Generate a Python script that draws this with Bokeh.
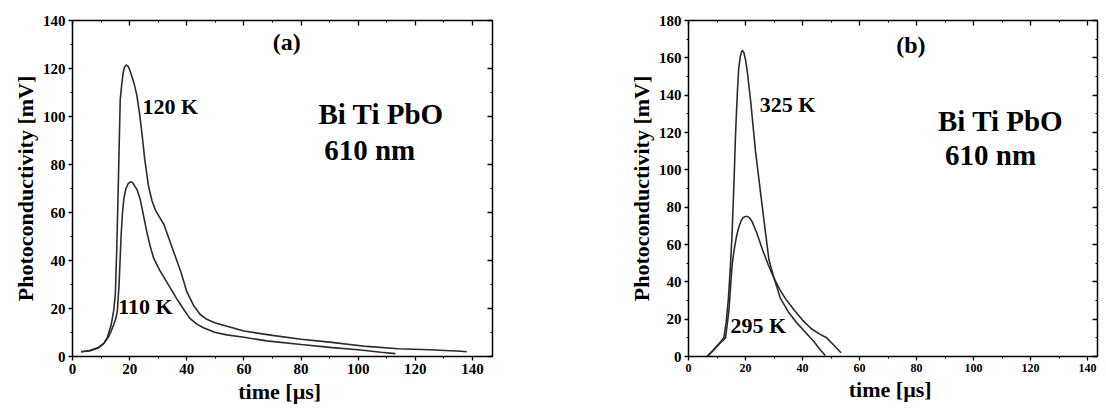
from bokeh.plotting import figure
from bokeh.models import Range1d, LinearAxis, Label, SingleIntervalTicker, CustomJSTickFormatter
from bokeh.layouts import row
from bokeh.embed import file_html
from bokeh.resources import INLINE

# ---- data (panel a) ----
a_120_t = [3, 6, 9, 11, 12.2, 13.5, 14.4, 15, 15.5, 16, 16.7, 17.2, 17.7, 18.2, 18.8, 19.4, 20, 20.7, 21.5, 22.5, 23.5, 24.3, 25.3, 26.6, 27.8, 29, 30.5, 32, 33.5, 35.3, 38, 40, 42.5, 44.7, 47, 50, 55, 60, 70, 80, 90, 103, 114, 125, 136, 138]
a_120_v = [2, 2.3, 3.5, 5.5, 8, 13, 19, 26, 45, 70, 107, 113, 118, 120.5, 121.5, 121, 119.5, 117, 114, 109, 101, 93, 82, 71, 65, 61, 58, 55, 50, 44, 35, 27, 21, 17.5, 15.5, 14, 12.3, 10.6, 8.8, 7.2, 6, 4.2, 3.2, 2.8, 2.2, 2]
a_110_t = [3, 6, 9, 11, 12.5, 13.5, 14.5, 15.2, 15.7, 16.3, 17, 17.5, 18, 18.7, 19.5, 20.3, 21, 21.8, 22.6, 23.7, 24.8, 26, 27.2, 28.4, 30.5, 33, 35, 36.5, 39, 41, 43.5, 45.8, 50, 54, 60, 68, 80, 91, 100, 108, 113]
a_110_v = [2, 2.5, 3.8, 5.5, 8, 10.5, 13.5, 16, 19, 30, 50, 60, 66, 70, 72, 72.8, 72.5, 71, 69.5, 65.5, 59, 52, 46, 41, 36, 31, 27, 24, 19.5, 16, 13.5, 12, 10, 9, 8, 6.5, 5, 3.7, 2.8, 1.8, 1.2]

# ---- data (panel b) ----
b_325_t = [6.5, 8.5, 10.6, 12.4, 13.2, 14, 14.7, 15.3, 16, 16.5, 17.1, 17.6, 18.2, 18.8, 19.4, 20, 20.6, 21.2, 21.8, 23.5, 25.9, 28.2, 30, 32.3, 35, 38, 41, 44, 46, 48]
b_325_v = [0, 3, 6.5, 10, 18, 31, 48, 66, 95, 119, 140, 154, 161, 164, 163, 159, 153, 145, 137, 110, 80, 52, 42, 31, 24, 18, 13, 8, 4, 0.5]
b_295_t = [6.5, 8.5, 10.6, 13, 14.2, 15.3, 16, 16.8, 17.6, 18.4, 19.2, 20, 20.8, 21.6, 22.4, 23.2, 24, 25.9, 28, 30, 32, 34, 37, 40, 43, 46, 48.5, 51, 53.5]
b_295_v = [0, 3, 6.5, 10, 25, 49, 57, 64, 69, 72.5, 74.5, 75, 75, 74, 72, 69, 66, 57.5, 49, 42, 36, 31, 25, 19.5, 15, 12, 10, 6, 2]

SERIF = "Liberation Serif"
LINE = "#2b2b2b"
BLANK = CustomJSTickFormatter(code="return ''")


def style_axis(ax, label_size, tick_in=0, tick_out=4):
    ax.axis_line_color = "black"
    ax.axis_line_width = 1.5
    ax.major_tick_line_color = "black"
    ax.minor_tick_line_color = "black"
    ax.major_tick_line_width = 1.3
    ax.major_tick_in = tick_in
    ax.major_tick_out = tick_out
    ax.minor_tick_in = 0 if tick_out else 2
    ax.minor_tick_out = 2 if tick_out else 0
    ax.major_label_text_font = SERIF
    ax.major_label_text_font_style = "bold"
    ax.major_label_text_color = "black"
    ax.major_label_text_font_size = label_size
    ax.major_label_standoff = 3
    ax.axis_label_text_font = SERIF
    ax.axis_label_text_font_style = "bold"
    ax.axis_label_text_font_size = "22px"
    ax.axis_label_text_color = "black"
    ax.axis_label_standoff = 2


def make_panel(width, x_end, y_end, bl, br, bt, bb, xlab_size):
    p = figure(width=width, height=406, output_backend="svg", toolbar_location=None,
               x_range=Range1d(0, x_end), y_range=Range1d(0, y_end),
               min_border_left=bl, min_border_right=br, min_border_top=bt, min_border_bottom=bb,
               x_axis_label="time  [µs]", y_axis_label="Photoconductivity [mV]")
    p.grid.visible = False
    p.outline_line_color = None
    p.xaxis.ticker = SingleIntervalTicker(interval=20, num_minor_ticks=2)
    p.yaxis.ticker = SingleIntervalTicker(interval=20, num_minor_ticks=2)
    style_axis(p.xaxis[0], xlab_size)
    style_axis(p.yaxis[0], "15px")
    top = LinearAxis(ticker=SingleIntervalTicker(interval=20, num_minor_ticks=2), formatter=BLANK)
    right = LinearAxis(ticker=SingleIntervalTicker(interval=20, num_minor_ticks=2), formatter=BLANK)
    style_axis(top, "10px", tick_in=5, tick_out=0)
    style_axis(right, "10px", tick_in=5, tick_out=0)
    top.major_label_standoff = 0
    right.major_label_standoff = 0
    p.add_layout(top, "above")
    p.add_layout(right, "right")
    return p


def add_label(p, x, y, text, size, align="left"):
    p.add_layout(Label(x=x, y=y, text=text, text_font=SERIF, text_font_style="bold",
                       text_font_size=size, text_color="black", text_align=align,
                       text_baseline="middle"))


# ---- panel (a) ----
pa = make_panel(568, 147, 140, 72, 76, 20, 47, "15px")
pa.line(a_120_t, a_120_v, line_color=LINE, line_width=1.6)
pa.line(a_110_t, a_110_v, line_color=LINE, line_width=1.6)
add_label(pa, 75, 131, "(a)", "24px", "center")
add_label(pa, 24.5, 104, "120 K", "22px")
add_label(pa, 16, 21, "110 K", "22px")
add_label(pa, 108, 101, "Bi Ti PbO", "29px", "center")
add_label(pa, 104, 86, "610 nm", "29px", "center")

# ---- panel (b) ----
pb = make_panel(536, 143.5, 180, 120, 7, 18, 47, "12px")
pb.line(b_325_t, b_325_v, line_color=LINE, line_width=1.6)
pb.line(b_295_t, b_295_v, line_color=LINE, line_width=1.6)
add_label(pb, 78, 167, "(b)", "24px", "center")
add_label(pb, 25, 135, "325 K", "22px")
add_label(pb, 14.7, 16.5, "295 K", "22px")
add_label(pb, 109.5, 126, "Bi Ti PbO", "29px", "center")
add_label(pb, 106, 108, "610 nm", "29px", "center")

layout = row(pa, pb)
open("out.html", "w").write(file_html(layout, INLINE))
